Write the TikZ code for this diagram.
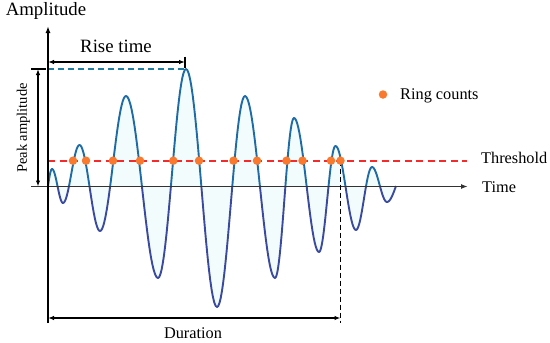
\documentclass[tikz,border=0pt]{standalone}
\usepackage{fontspec}
\setmainfont{Liberation Serif}
\usetikzlibrary{arrows.meta}
\definecolor{waveup}{HTML}{1F6BA5}
\definecolor{wavedn}{HTML}{3A4A9E}
\definecolor{thrc}{HTML}{F52A2A}
\definecolor{pkc}{HTML}{1E7FA3}
\definecolor{dotc}{HTML}{F97A2E}
\definecolor{bgc}{HTML}{F2FCFD}
\newcommand\mywavepath{(48,186) -- plot[domain=0:90,samples=10,variable=\t] ({48+4*\t/90},{186-17*sin(\t)})
  \foreach \xa/\ya/\xb/\yb in {52/169/63/203, 63/203/79.5/145, 79.5/145/100/231, 100/231/126/96,
    126/96/158/278, 158/278/186/69, 186/69/217/307, 217/307/245/96, 245/96/275/278,
    275/278/294/118, 294/118/319/252, 319/252/335.5/146, 335.5/146/356/230,
    356/230/372/167, 372/167/387/202}
  { -- plot[domain=0:180,samples=24,variable=\t] ({\xa+(\xb-\xa)*\t/180},{(\ya+\yb)/2+(\ya-\yb)/2*cos(\t)}) }
  -- plot[domain=0:90,samples=10,variable=\t] ({387+9*\t/90},{186+16*cos(\t)})}
\begin{document}
\begin{tikzpicture}[x=1pt,y=-1pt,
  lbl/.style={inner sep=0pt, font=\fontsize{16.3}{18}\selectfont},
  biglbl/.style={inner sep=0pt, font=\fontsize{18.8}{21}\selectfont},
  dotn/.style={circle, fill=dotc, inner sep=0pt, minimum size=8.5pt},
  axisline/.style={line width=1.7pt, -{Latex[length=7pt,width=5pt]}},
  dimline/.style={line width=1.4pt, {Latex[length=6pt,width=4.5pt]}-{Latex[length=6pt,width=4.5pt]}},
  wv/.style={line width=1.9pt, line join=round}]

\useasboundingbox (0,0) rectangle (550,343);

% light background under the wave
\fill[bgc] \mywavepath -- cycle;

% coordinates
\coordinate (ybot) at (48,323);
\coordinate (ytop) at (48,26);
\coordinate (xl) at (31,186.5);
\coordinate (xr) at (468,186.5);
\coordinate (thl) at (48,160.7);
\coordinate (thr) at (467,160.7);
\coordinate (pkl) at (48,69);
\coordinate (pkr) at (186,69);
\coordinate (rl) at (48,62);
\coordinate (rr) at (185,62);
\coordinate (rt1) at (185,56.5);
\coordinate (rt2) at (185,68);
\coordinate (pa1) at (38,69);
\coordinate (pa2) at (38,186.5);
\coordinate (pt1) at (31,69);
\coordinate (pt2) at (46,69);
\coordinate (dl) at (48,318);
\coordinate (dr) at (340.5,318);
\coordinate (dv1) at (340.5,160.7);
\coordinate (dv2) at (340.5,323);

% threshold and peak dashed lines
\draw[thrc, line width=1.9pt, dash pattern=on 7pt off 4.5pt] (thl) -- (thr);
\draw[pkc, line width=1.5pt, dash pattern=on 6pt off 4pt] (pkl) -- (pkr);

% waveform (upper in lighter blue, lower in darker)
\begin{scope}
  \clip (0,0) rectangle (550,186.5);
  \draw[wv, waveup] \mywavepath;
\end{scope}
\begin{scope}
  \clip (0,186.5) rectangle (550,343);
  \draw[wv, wavedn] \mywavepath;
\end{scope}

% axes
\draw[axisline, black!80] (xl) -- (xr);
\draw[axisline] (ybot) -- (ytop);

% duration
\draw[black, line width=1.6pt, dash pattern=on 5pt off 3pt] (dv1) -- (dv2);
\draw[dimline] (dl) -- (dr);

% rise time
\draw[dimline] (rl) -- (rr);
\draw[line width=1.4pt] (rt1) -- (rt2);

% peak amplitude
\draw[line width=1.4pt] (pt1) -- (pt2);
\draw[dimline] (pa1) -- (pa2);

% ring count dots
\foreach \x [count=\i] in {73,86,113,140,173.3,199,233.5,257,286.5,302.5,331,340.5}
  \node[dotn] (d\i) at (\x,160.7) {};

% legend
\node[dotn] (legdot) at (383,94.5) {};
\node[lbl, anchor=west] (legtxt) at (400,95.5) {Ring counts};

% labels
\node[biglbl] (amp) at (46,11) {Amplitude};
\node[biglbl] (rise) at (116,46.5) {Rise time};
\node[lbl, anchor=west] (thlab) at (481,158) {Threshold};
\node[lbl, anchor=west] (tlab) at (482,187) {Time};
\node[lbl] (dur) at (193,333) {Duration};
\node[inner sep=0pt, rotate=90, font=\fontsize{14.5}{16}\selectfont] (pamp) at (23.5,128) {Peak amplitude};
\end{tikzpicture}
\end{document}
